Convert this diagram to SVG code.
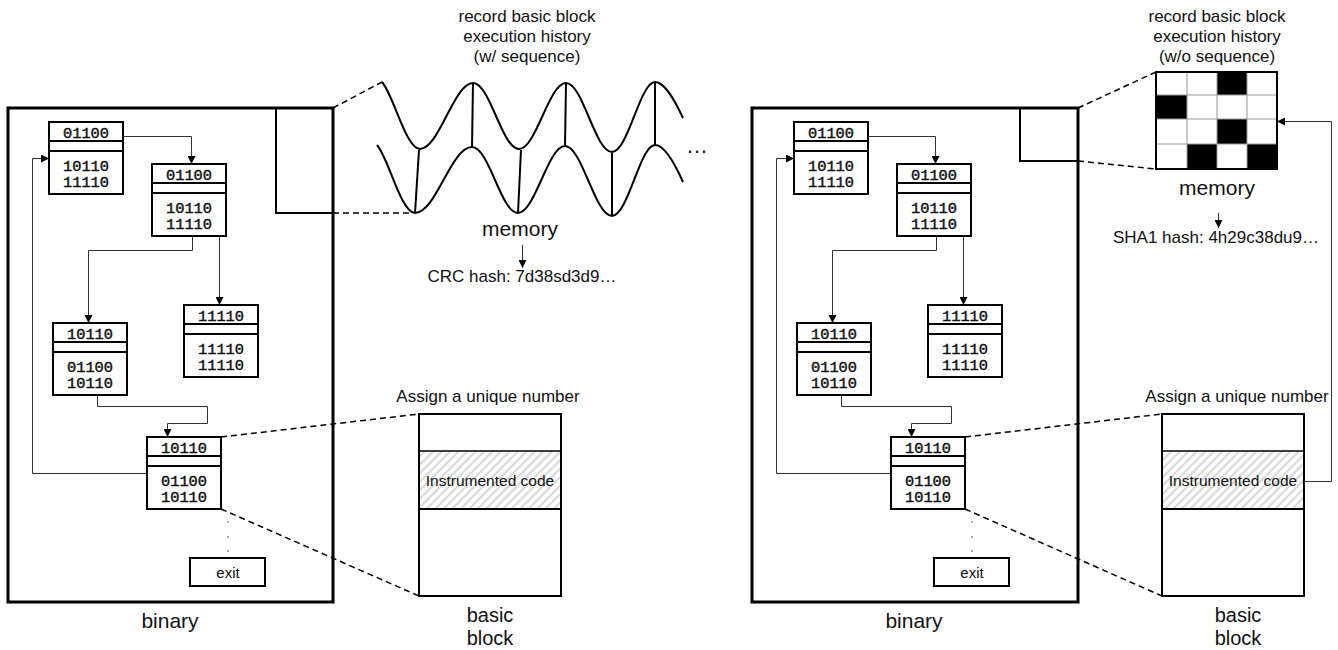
<svg xmlns="http://www.w3.org/2000/svg" width="1338" height="650" viewBox="0 0 1338 650">
<style>
.frame{fill:#fff;stroke:#000;stroke-width:3}
.box{fill:#fff;stroke:#000;stroke-width:2}
.sep{stroke:#000;stroke-width:2}
.code{font-family:"Liberation Mono","DejaVu Sans Mono",monospace;font-size:15.5px;text-anchor:middle;fill:#111;stroke:#111;stroke-width:0.45}
.t{font-family:"Liberation Sans",Arial,sans-serif;text-anchor:middle;fill:#111}
.conn{fill:none;stroke:#333;stroke-width:1}
.dash{fill:none;stroke:#000;stroke-width:1.5;stroke-dasharray:6 4}
.wave{fill:none;stroke:#000;stroke-width:2}
.dot{fill:#444}
</style>
<defs>
<marker id="arr" markerUnits="userSpaceOnUse" markerWidth="8" markerHeight="8" refX="8" refY="4" orient="auto">
<path d="M0,0 L8,4 L0,8 Z" fill="#000"/>
</marker>
<pattern id="hatch" patternUnits="userSpaceOnUse" width="6" height="6" patternTransform="rotate(45)">
<rect width="6" height="6" fill="#fff"/>
<line x1="1.5" y1="0" x2="1.5" y2="6" stroke="#cfcfcf" stroke-width="1.8"/>
</pattern>
<g id="blk-shape">
<rect class="box" x="0" y="0" width="74" height="72"/>
<line class="sep" x1="0" y1="19" x2="74" y2="19"/>
<line class="sep" x1="0" y1="29" x2="74" y2="29"/>
</g>
</defs>
<rect width="1338" height="650" fill="#fff"/>

<!-- LEFT PANEL -->
<g id="binary-left">
<rect class="frame" x="8" y="108" width="325" height="494"/>
<rect fill="none" stroke="#000" stroke-width="2" x="276" y="108" width="57" height="105"/>
<text class="t" x="170" y="628" font-size="21">binary</text>
</g>
<g id="bb1-left" transform="translate(49,122)"><use href="#blk-shape"/><text class="code" x="37" y="16" textLength="46" lengthAdjust="spacingAndGlyphs">01100</text><text class="code" x="37" y="49" textLength="46" lengthAdjust="spacingAndGlyphs">10110</text><text class="code" x="37" y="65" textLength="46" lengthAdjust="spacingAndGlyphs">11110</text></g>
<g id="bb2-left" transform="translate(152,164)"><use href="#blk-shape"/><text class="code" x="37" y="16" textLength="46" lengthAdjust="spacingAndGlyphs">01100</text><text class="code" x="37" y="49" textLength="46" lengthAdjust="spacingAndGlyphs">10110</text><text class="code" x="37" y="65" textLength="46" lengthAdjust="spacingAndGlyphs">11110</text></g>
<g id="bb3-left" transform="translate(53,323)"><use href="#blk-shape"/><text class="code" x="37" y="16" textLength="46" lengthAdjust="spacingAndGlyphs">10110</text><text class="code" x="37" y="49" textLength="46" lengthAdjust="spacingAndGlyphs">01100</text><text class="code" x="37" y="65" textLength="46" lengthAdjust="spacingAndGlyphs">10110</text></g>
<g id="bb4-left" transform="translate(184,305)"><use href="#blk-shape"/><text class="code" x="37" y="16" textLength="46" lengthAdjust="spacingAndGlyphs">11110</text><text class="code" x="37" y="49" textLength="46" lengthAdjust="spacingAndGlyphs">11110</text><text class="code" x="37" y="65" textLength="46" lengthAdjust="spacingAndGlyphs">11110</text></g>
<g id="bb5-left" transform="translate(147,437)"><use href="#blk-shape"/><text class="code" x="37" y="16" textLength="46" lengthAdjust="spacingAndGlyphs">10110</text><text class="code" x="37" y="49" textLength="46" lengthAdjust="spacingAndGlyphs">01100</text><text class="code" x="37" y="65" textLength="46" lengthAdjust="spacingAndGlyphs">10110</text></g>
<g id="dots-left"><circle class="dot" cx="228" cy="522" r="0.8"/><circle class="dot" cx="228" cy="537" r="0.8"/><circle class="dot" cx="228" cy="551" r="0.8"/></g>
<g id="exit-left"><rect class="box" x="190" y="558" width="75" height="28"/><text class="t" x="228" y="578" font-size="15">exit</text></g>

<g id="memory-left">
<text class="t" x="527" y="22" font-size="17">record basic block</text>
<text class="t" x="527" y="42" font-size="17">execution history</text>
<text class="t" x="527" y="62" font-size="17">(w/ sequence)</text>
<path class="wave" d="M382,82 C394,96 406,149 420,149 C439,149 454,83 473,83 C490,83 502,149 519,149 C536,149 549,83 566,83 C583,83 595,152 612,152 C628,152 640,82 655,82 C665,82 675,101 683,118"/>
<path class="wave" d="M377,145 C389,159 401,213 415,213 C436,213 451,147 472,147 C489,147 501,213 518,213 C535,213 548,146 565,146 C582,146 595,216 612,216 C628,216 640,145 655,145 C665,145 675,164 683,182"/>
<path class="wave" d="M419,150 L415,213 M473,83 L472,147 M521,150 L518,213 M566,83 L565,146 M612,153 L612,216 M655,82 L655,145"/>
<text class="t" x="697" y="153" font-size="22">…</text>
<text class="t" x="520" y="236" font-size="21">memory</text>
<text class="t" x="522" y="282" font-size="17">CRC hash: 7d38sd3d9…</text>
</g>

<g id="basicblock-left">
<text class="t" x="488" y="402" font-size="17">Assign a unique number</text>
<rect fill="#fff" stroke="#000" stroke-width="2" x="419" y="414" width="142" height="182"/>
<rect fill="url(#hatch)" x="420" y="451" width="140" height="58"/>
<line stroke="#000" stroke-width="1.5" x1="419" y1="451" x2="561" y2="451"/>
<line stroke="#000" stroke-width="2" x1="419" y1="509" x2="561" y2="509"/>
<text class="t" x="490" y="486" font-size="15.5">Instrumented code</text>
<text class="t" x="490" y="622" font-size="20">basic</text>
<text class="t" x="490" y="645" font-size="20">block</text>
</g>

<!-- RIGHT PANEL -->
<g id="binary-right">
<rect class="frame" x="752" y="108" width="326" height="494"/>
<rect fill="none" stroke="#000" stroke-width="2" x="1020" y="108" width="58" height="53"/>
<text class="t" x="914" y="628" font-size="21">binary</text>
</g>
<g id="bb1-right" transform="translate(794,122)"><use href="#blk-shape"/><text class="code" x="37" y="16" textLength="46" lengthAdjust="spacingAndGlyphs">01100</text><text class="code" x="37" y="49" textLength="46" lengthAdjust="spacingAndGlyphs">10110</text><text class="code" x="37" y="65" textLength="46" lengthAdjust="spacingAndGlyphs">11110</text></g>
<g id="bb2-right" transform="translate(897,164)"><use href="#blk-shape"/><text class="code" x="37" y="16" textLength="46" lengthAdjust="spacingAndGlyphs">01100</text><text class="code" x="37" y="49" textLength="46" lengthAdjust="spacingAndGlyphs">10110</text><text class="code" x="37" y="65" textLength="46" lengthAdjust="spacingAndGlyphs">11110</text></g>
<g id="bb3-right" transform="translate(797,323)"><use href="#blk-shape"/><text class="code" x="37" y="16" textLength="46" lengthAdjust="spacingAndGlyphs">10110</text><text class="code" x="37" y="49" textLength="46" lengthAdjust="spacingAndGlyphs">01100</text><text class="code" x="37" y="65" textLength="46" lengthAdjust="spacingAndGlyphs">10110</text></g>
<g id="bb4-right" transform="translate(928,305)"><use href="#blk-shape"/><text class="code" x="37" y="16" textLength="46" lengthAdjust="spacingAndGlyphs">11110</text><text class="code" x="37" y="49" textLength="46" lengthAdjust="spacingAndGlyphs">11110</text><text class="code" x="37" y="65" textLength="46" lengthAdjust="spacingAndGlyphs">11110</text></g>
<g id="bb5-right" transform="translate(891,437)"><use href="#blk-shape"/><text class="code" x="37" y="16" textLength="46" lengthAdjust="spacingAndGlyphs">10110</text><text class="code" x="37" y="49" textLength="46" lengthAdjust="spacingAndGlyphs">01100</text><text class="code" x="37" y="65" textLength="46" lengthAdjust="spacingAndGlyphs">10110</text></g>
<g id="dots-right"><circle class="dot" cx="972" cy="522" r="0.8"/><circle class="dot" cx="972" cy="537" r="0.8"/><circle class="dot" cx="972" cy="551" r="0.8"/></g>
<g id="exit-right"><rect class="box" x="934" y="558" width="75" height="28"/><text class="t" x="972" y="578" font-size="15">exit</text></g>

<g id="memory-right">
<text class="t" x="1217" y="22" font-size="17">record basic block</text>
<text class="t" x="1217" y="42" font-size="17">execution history</text>
<text class="t" x="1217" y="62" font-size="17">(w/o sequence)</text>
<rect x="1156" y="72" width="121" height="97" fill="#fff"/>
<rect x="1217" y="72" width="30" height="23" fill="#000"/>
<rect x="1156" y="95" width="31" height="24" fill="#000"/>
<rect x="1217" y="119" width="30" height="25" fill="#000"/>
<rect x="1187" y="144" width="30" height="25" fill="#000"/>
<rect x="1247" y="144" width="30" height="25" fill="#000"/>
<path fill="none" stroke="#999" stroke-width="1" d="M1187,72 V169 M1217,72 V169 M1247,72 V169 M1156,95 H1277 M1156,119 H1277 M1156,144 H1277"/>
<rect x="1156" y="72" width="121" height="97" fill="none" stroke="#000" stroke-width="2"/>
<text class="t" x="1217" y="195" font-size="21">memory</text>
<text class="t" x="1216" y="243" font-size="17">SHA1 hash: 4h29c38du9…</text>
</g>

<g id="basicblock-right">
<text class="t" x="1237" y="402" font-size="17">Assign a unique number</text>
<rect fill="#fff" stroke="#000" stroke-width="2" x="1162" y="414" width="142" height="182"/>
<rect fill="url(#hatch)" x="1163" y="451" width="140" height="58"/>
<line stroke="#000" stroke-width="1.5" x1="1162" y1="451" x2="1304" y2="451"/>
<line stroke="#000" stroke-width="2" x1="1162" y1="509" x2="1304" y2="509"/>
<text class="t" x="1233" y="486" font-size="15.5">Instrumented code</text>
<text class="t" x="1238" y="622" font-size="20">basic</text>
<text class="t" x="1238" y="645" font-size="20">block</text>
</g>

<g id="connectors">
<path class="conn" marker-end="url(#arr)" d="M123,136.5 H191.5 V164"/>
<path class="conn" marker-end="url(#arr)" d="M192.5,237 V250.5 H88.5 V323"/>
<path class="conn" marker-end="url(#arr)" d="M219.5,237 V305"/>
<path class="conn" marker-end="url(#arr)" d="M97.5,396 V406.5 H207.5 V423.5 H167.5 V437"/>
<path class="conn" marker-end="url(#arr)" d="M147,473.5 H32.5 V158.5 H49"/>
<path class="conn" marker-end="url(#arr)" d="M522.5,245 V268"/>
<path class="dash" d="M333,108 L382,82"/>
<path class="dash" d="M333,213 L413,213"/>
<path class="dash" d="M221,437 L419,414"/>
<path class="dash" d="M221,509 L419,596"/>

<path class="conn" marker-end="url(#arr)" d="M868,136.5 H935.5 V164"/>
<path class="conn" marker-end="url(#arr)" d="M936.5,237 V250.5 H832.5 V323"/>
<path class="conn" marker-end="url(#arr)" d="M963.5,237 V305"/>
<path class="conn" marker-end="url(#arr)" d="M841.5,396 V406.5 H951.5 V423.5 H911.5 V437"/>
<path class="conn" marker-end="url(#arr)" d="M891,473.5 H776.5 V158.5 H794"/>
<path class="conn" marker-end="url(#arr)" d="M1218.5,213 V228"/>
<path class="conn" marker-end="url(#arr)" d="M1304,481.5 H1331.5 V121.5 H1277"/>
<path class="dash" d="M1078,108 L1156,72"/>
<path class="dash" d="M1078,161 L1156,169"/>
<path class="dash" d="M965,437 L1162,414"/>
<path class="dash" d="M965,509 L1162,596"/>
</g>
</svg>
